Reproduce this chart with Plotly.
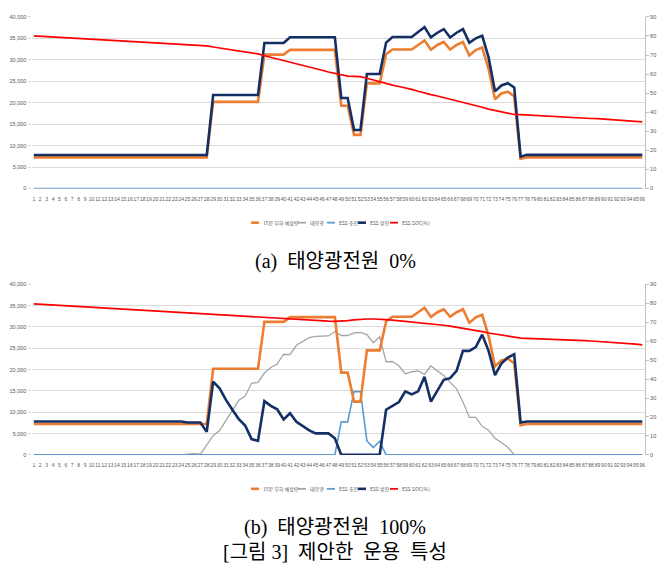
import plotly.graph_objects as go

# ---- data (96 fifteen-minute intervals) ----
slots = list(range(1, 97))
slot_labels = [str(i) for i in slots]

series_names = ["15분 부하 예상량", "태양광", "ESS 충전", "ESS 방전", "ESS SOC(%)"]
series_colors = ["#ED7D31", "#A5A5A5", "#5B9BD5", "#142F64", "#FF0000"]
series_widths = [2.6, 1.3, 1.6, 2.6, 1.7]

load_forecast = (
    [7250] * 28 + [20200] * 8 + [31200] * 4 + [32300] * 8
    + [19300, 19300, 12500, 12500, 24500, 24500, 24500, 31300,
       32400, 32400, 32400, 32400, 33450, 34500, 32350, 33450,
       34150, 32400, 33450, 34150, 31000, 32250, 32850, 27900,
       20800, 22150, 22550, 21500, 6960]
    + [7250] * 19
)

# case (a): no PV
pv_a = [0] * 96
charge_a = [0] * 96
discharge_a = (
    [7800] * 28 + [21800] * 8 + [33900] * 4 + [35250] * 8
    + [21100, 21100, 13650, 13650, 26700, 26700, 26700, 34000,
       35300, 35300, 35300, 35300, 36450, 37600, 35230, 36300,
       37150, 35200, 36300, 37150, 33930, 35000, 35620, 30550,
       22640, 24020, 24550, 23560, 7420]
    + [7850] * 19
)
soc_a = [
    80.0, 79.8, 79.6, 79.4, 79.2, 79.0, 78.9, 78.7, 78.5, 78.4,
    78.2, 78.0, 77.8, 77.6, 77.4, 77.2, 77.0, 76.8, 76.6, 76.4,
    76.2, 76.0, 75.8, 75.7, 75.5, 75.3, 75.1, 74.8, 74.2, 73.7,
    73.2, 72.7, 72.2, 71.7, 71.2, 70.6, 69.6, 68.8, 68.0, 67.2,
    66.4, 65.6, 64.7, 63.8, 62.9, 62.0, 61.1, 60.4, 59.6, 58.9,
    58.8, 58.7, 57.8, 56.8, 55.8, 55.0, 54.2, 53.5, 52.8, 52.0,
    51.0, 49.9, 49.2, 48.5, 47.7, 47.0, 46.2, 45.4, 44.5, 43.7,
    42.6, 41.6, 40.9, 40.2, 39.5, 38.8, 38.7, 38.5, 38.2, 38.0,
    37.8, 37.6, 37.5, 37.3, 37.1, 37.0, 36.9, 36.7, 36.6, 36.4,
    36.2, 36.0, 35.7, 35.4, 35.1, 34.9,
]

# case (b): 100 % PV
pv_b = (
    [0] * 24
    + [200, 300, 150, 2300, 4500, 5700, 8100, 10400, 12800, 13800,
       16800, 17000, 19200, 20500, 21300, 23600, 23500, 25700, 26700, 27500,
       27800, 27900, 27900, 28900, 28000, 28000, 28600, 28700, 28200, 26300,
       27700, 21800, 21900, 20900, 19000, 19500, 19700, 18900, 20900, 19700,
       18600, 17000, 15500, 12400, 8800, 8800, 6700, 5800, 3900, 2900,
       1800]
    + [0] * 21
)
charge_b = [0] * 48 + [7750, 7750, 14900, 14850, 3300, 1700, 3200] + [0] * 41
discharge_b = (
    [7850] * 24
    + [7600, 7600, 7600, 5400, 17200, 15600, 12900, 10600, 8400, 6900,
       3700, 3300, 12600, 11500, 10700, 8300, 9750, 7750, 6650, 5750,
       5050, 5050, 5050, 3900]
    + [0] * 7
    + [10600, 11600, 12400, 14900, 14200, 14900, 18300, 12500, 15100, 17600,
       18000, 19700, 24400, 24400, 25300, 28200, 24400, 18700, 21400, 22800,
       23600, 7600]
    + [7850] * 19
)
soc_b = [
    79.7, 79.5, 79.3, 79.1, 78.9, 78.7, 78.5, 78.3, 78.1, 77.9,
    77.8, 77.6, 77.4, 77.2, 77.0, 76.8, 76.6, 76.4, 76.2, 76.0,
    75.8, 75.6, 75.4, 75.2, 75.0, 74.8, 74.6, 74.3, 74.0, 73.8,
    73.6, 73.4, 73.2, 73.0, 72.9, 72.8, 72.5, 72.2, 71.9, 71.7,
    71.5, 71.3, 71.1, 71.0, 70.8, 70.7, 70.6, 70.5, 70.5, 70.8,
    71.2, 71.6, 71.7, 71.7, 71.7, 71.4, 71.1, 70.8, 70.5, 70.2,
    69.8, 69.5, 69.2, 68.8, 68.4, 67.9, 67.4, 66.9, 66.3, 65.6,
    65.0, 64.3, 63.8, 63.2, 62.6, 62.0, 61.6, 61.5, 61.4, 61.3,
    61.2, 61.0, 60.9, 60.8, 60.6, 60.5, 60.3, 60.1, 59.9, 59.6,
    59.4, 59.2, 59.0, 58.7, 58.4, 58.1,
]

power_ticks = list(range(0, 40001, 5000))
soc_ticks = list(range(0, 91, 10))

captions = ["(a)  태양광전원  0%", "(b)  태양광전원  100%", "[그림 3]  제안한  운용  특성"]

# ---- figure ----
W, H = 670, 572
fig = go.Figure()

panels = [
    dict(x="x", y="y", y2="y2", data=[load_forecast, pv_a, charge_a, discharge_a, soc_a]),
    dict(x="x2", y="y3", y2="y4", data=[load_forecast, pv_b, charge_b, discharge_b, soc_b]),
]
draw_order = [1, 2, 0, 3, 4]
for p in panels:
    for k in draw_order:
        on_soc = k == 4
        fig.add_trace(go.Scatter(
            x=slots, y=p["data"][k], mode="lines", name=series_names[k],
            line=dict(color=series_colors[k], width=series_widths[k]),
            xaxis=p["x"], yaxis=p["y2"] if on_soc else p["y"],
            showlegend=False, hoverinfo="skip",
        ))

tick_font = dict(family="Arial, Liberation Sans, Noto Sans CJK KR", size=5, color="#595959")
x_dom = [31.5 / W, 645 / W]
x_rng = [0.64, 96.42]


def y_dom(top_px, bottom_px):
    return [1 - bottom_px / H, 1 - top_px / H]


def xaxis(anchor):
    return dict(domain=x_dom, range=x_rng, anchor=anchor, tickmode="array",
                tickvals=slots, ticktext=slot_labels, tickangle=0,
                tickfont=tick_font, showgrid=False, zeroline=False,
                showline=False, ticks="", ticklabelstandoff=6, fixedrange=True)


def yleft(dom, anchor):
    return dict(domain=dom, range=[0, 40000], anchor=anchor, tickmode="array",
                tickvals=power_ticks, tickformat=",", tickfont=dict(tick_font, size=5.5),
                showgrid=True, gridcolor="#D9D9D9", gridwidth=1, zeroline=False,
                showline=False, ticks="outside", ticklen=3, tickcolor="#D9D9D9")


def yright(overlay, anchor):
    return dict(overlaying=overlay, side="right", anchor=anchor, range=[0, 90],
                tickmode="array", tickvals=soc_ticks, tickfont=dict(tick_font, size=5.5),
                showgrid=False, zeroline=False, showline=True, linecolor="#BFBFBF",
                linewidth=1, ticks="outside", ticklen=3, tickcolor="#BFBFBF")


top_dom = y_dom(14, 187.5)
bot_dom = y_dom(284.3, 456.7)

fig.update_layout(
    width=W, height=H, margin=dict(l=0, r=0, t=0, b=0),
    paper_bgcolor="white", plot_bgcolor="white", showlegend=False,
    xaxis=xaxis("y"), yaxis=yleft(top_dom, "x"), yaxis2=yright("y", "x"),
    xaxis2=xaxis("y3"), yaxis3=yleft(bot_dom, "x2"), yaxis4=yright("y3", "x2"),
)

# ---- legend rows drawn under each panel ----
legend_font = dict(family="Noto Sans CJK KR, Arial", size=5, color="#595959")
legend_line_x = [251, 298, 327, 358, 390]
legend_rows_y = [222, 491]
shapes, annotations = [], []
for ly in legend_rows_y:
    for name, color, width, lx in zip(series_names, series_colors, series_widths, legend_line_x):
        shapes.append(dict(type="line", xref="paper", yref="paper",
                           x0=lx / W, x1=(lx + 8) / W, y0=1 - ly / H, y1=1 - ly / H,
                           line=dict(color=color, width=max(width, 1.8))))
        annotations.append(dict(text=name, xref="paper", yref="paper",
                                x=(lx + 9.5) / W, y=1 - ly / H, xanchor="left",
                                yanchor="middle", showarrow=False, font=legend_font))

# ---- captions ----
caption_font = dict(family="Liberation Serif, Noto Sans CJK KR", size=20, color="#000000")
for text, cy in zip(captions, [261, 530, 555]):
    annotations.append(dict(text=text, xref="paper", yref="paper", x=335 / W,
                            y=1 - cy / H, xanchor="center", yanchor="middle",
                            showarrow=False, font=caption_font))

fig.update_layout(shapes=shapes, annotations=annotations)
fig.write_html("out.html")
